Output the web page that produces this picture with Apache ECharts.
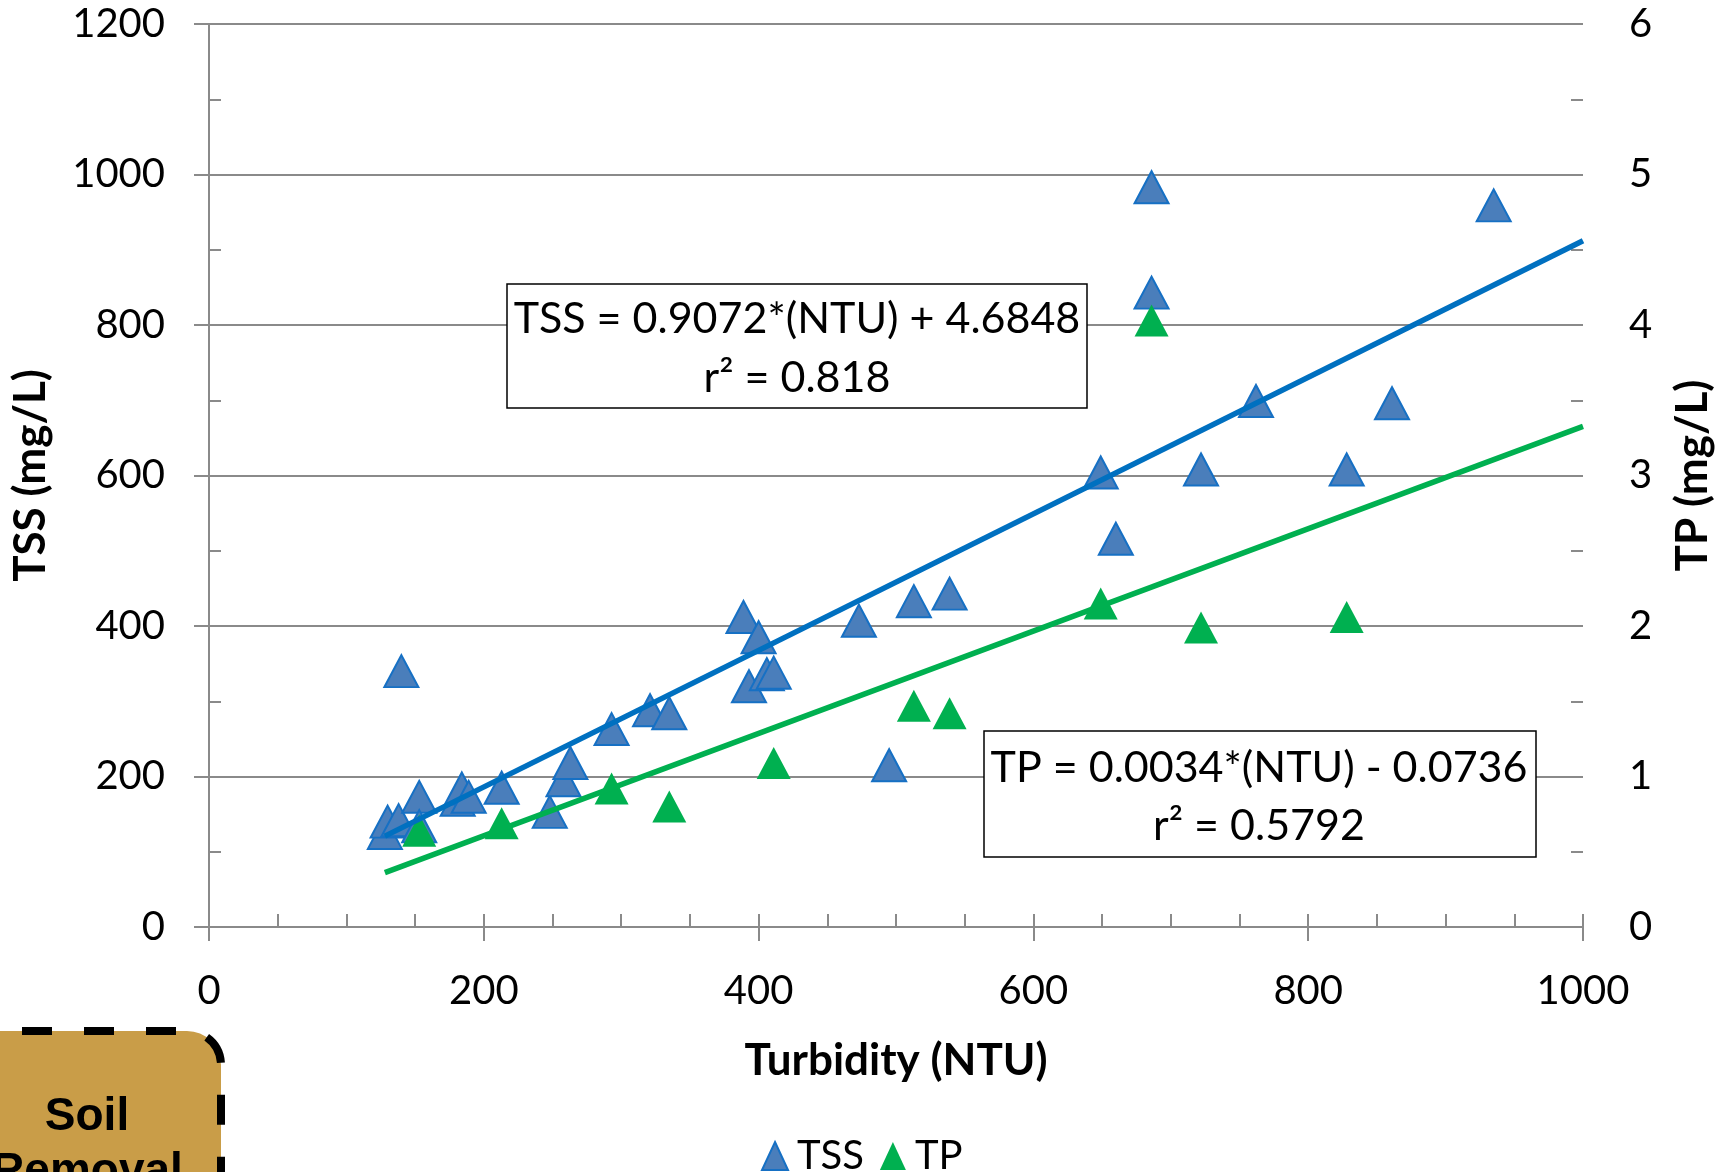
<!DOCTYPE html>
<html>
<head>
<meta charset="utf-8">
<script src="https://cdn.jsdelivr.net/npm/echarts@6/dist/echarts.min.js"></script>
<style>
  html, body { margin: 0; padding: 0; background: #fff; }
  #main { width: 1727px; height: 1172px; }
</style>
</head>
<body>
<div id="main"></div>
<script>
var myChart = echarts.init(document.getElementById('main'));

// TSS vs turbidity
var tssNtu = [128, 130, 138, 140, 153, 153, 181, 184, 189, 213, 248, 258, 263, 293, 321, 335, 389, 393, 400, 406, 411, 473, 495, 513, 539, 649, 660, 686, 686, 722, 762, 828, 861, 935];
var tssVal = [125, 140, 142, 340, 173, 134, 169, 184, 173, 185, 153, 195, 218, 263, 288, 284, 412, 320, 385, 336, 338, 407, 215, 433, 443, 604, 516, 983, 843, 608, 699, 608, 696, 959];

// TP vs turbidity
var tpNtu = [153, 213, 293, 335, 411, 513, 539, 649, 686, 722, 828];
var tpVal = [0.64, 0.69, 0.92, 0.80, 1.09, 1.47, 1.42, 2.15, 4.03, 1.99, 2.06];

// fitted lines: [slope, intercept], drawn from min NTU to axis end
var tssFit = [0.9072, 4.6848];
var tpFit = [0.0034, -0.0736];
var fitRange = [128, 1000];

var xTicks = [0, 1000, 200];
var tssTicks = [0, 1200, 200];
var tpTicks = [0, 6, 1];

function pairs(xs, ys) {
    var out = [];
    for (var i = 0; i < xs.length; i++) out.push([xs[i], ys[i]]);
    return out;
}
function fitLine(c) {
    return fitRange.map(function (x) { return [x, c[0] * x + c[1]]; });
}
function plain(v) { return String(v); }   // no thousands separator

var gray = '#8a8a8a';
var font = 'Lato';

option = {
    animation: false,
    grid: { left: 209, right: 144, top: 24, bottom: 245 },
    legend: {
        left: 756,
        top: 1131,
        itemWidth: 26,
        itemHeight: 28,
        itemGap: 16,
        textStyle: { fontFamily: font, fontSize: 40, color: '#000', padding: [0, 0, 0, 4] },
        data: ['TSS', 'TP']
    },
    xAxis: [
        {
            type: 'value',
            min: xTicks[0], max: xTicks[1], interval: xTicks[2],
            name: 'Turbidity (NTU)',
            nameLocation: 'middle',
            nameGap: 112,
            nameTextStyle: { fontFamily: font, fontSize: 44, fontWeight: 'bold', color: '#000' },
            axisLine: { lineStyle: { color: gray, width: 2 } },
            axisTick: { length: 14, lineStyle: { color: gray, width: 2 } },
            axisLabel: { fontFamily: font, fontSize: 40, color: '#000', margin: 44, formatter: plain },
            splitLine: { show: false }
        },
        {   // inner ticks
            type: 'value', position: 'bottom',
            min: xTicks[0], max: xTicks[1], interval: 50,
            axisLine: { show: false },
            axisTick: { inside: true, length: 13, lineStyle: { color: gray, width: 2 } },
            axisLabel: { show: false },
            splitLine: { show: false }
        }
    ],
    yAxis: [
        {
            type: 'value', position: 'left',
            min: tssTicks[0], max: tssTicks[1], interval: tssTicks[2],
            name: 'TSS (mg/L)',
            nameLocation: 'middle',
            nameRotate: 90,
            nameGap: 156,
            nameTextStyle: { fontFamily: font, fontSize: 44, fontWeight: 'bold', color: '#000' },
            axisLine: { show: true, lineStyle: { color: gray, width: 2 } },
            axisTick: { show: true, length: 15, lineStyle: { color: gray, width: 2 } },
            axisLabel: { fontFamily: font, fontSize: 40, color: '#000', margin: 44, formatter: plain },
            splitLine: { lineStyle: { color: gray, width: 2 } }
        },
        {
            type: 'value', position: 'right',
            min: tpTicks[0], max: tpTicks[1], interval: tpTicks[2],
            name: 'TP (mg/L)',
            nameLocation: 'middle',
            nameRotate: 90,
            nameGap: 88,
            nameTextStyle: { fontFamily: font, fontSize: 44, fontWeight: 'bold', color: '#000' },
            axisLine: { show: true, lineStyle: { color: gray, width: 2 } },
            axisTick: { show: true, length: 15, lineStyle: { color: gray, width: 2 } },
            axisLabel: { fontFamily: font, fontSize: 40, color: '#000', margin: 46 },
            splitLine: { show: false }
        },
        {   // inner ticks left
            type: 'value', position: 'left',
            min: tssTicks[0], max: tssTicks[1], interval: 100,
            axisLine: { show: false },
            axisTick: { show: true, inside: true, length: 12, lineStyle: { color: gray, width: 2 } },
            axisLabel: { show: false },
            splitLine: { show: false }
        },
        {   // inner ticks right
            type: 'value', position: 'right',
            min: tpTicks[0], max: tpTicks[1], interval: 0.5,
            axisLine: { show: false },
            axisTick: { show: true, inside: true, length: 12, lineStyle: { color: gray, width: 2 } },
            axisLabel: { show: false },
            splitLine: { show: false }
        }
    ],
    series: [
        {
            name: 'TSS',
            type: 'scatter',
            symbol: 'triangle',
            symbolSize: [34, 32],
            itemStyle: { color: '#4a7ebb', borderColor: '#1670c4', borderWidth: 2, opacity: 1 },
            data: pairs(tssNtu, tssVal),
            z: 2
        },
        {
            name: 'TP',
            type: 'scatter',
            yAxisIndex: 1,
            symbol: 'triangle',
            symbolSize: [34, 32],
            itemStyle: { color: '#00b050', opacity: 1 },
            data: pairs(tpNtu, tpVal),
            z: 3
        },
        {
            name: 'TSS fit',
            type: 'line',
            showSymbol: false,
            lineStyle: { color: '#0070c0', width: 5.5 },
            data: fitLine(tssFit),
            z: 4
        },
        {
            name: 'TP fit',
            type: 'line',
            yAxisIndex: 1,
            showSymbol: false,
            lineStyle: { color: '#00b050', width: 5.5 },
            data: fitLine(tpFit),
            z: 4
        }
    ],
    graphic: [
        {
            type: 'rect',
            shape: { x: 507, y: 284, width: 580, height: 124 },
            style: { fill: '#fff', stroke: '#000', lineWidth: 1.5 },
            z: 10
        },
        {
            type: 'text', x: 797, y: 319, z: 11,
            style: { text: 'TSS = 0.9072*(NTU) + 4.6848', fontFamily: font, fontSize: 43, fill: '#000', align: 'center', verticalAlign: 'middle' }
        },
        {
            type: 'text', x: 797, y: 378, z: 11,
            style: { text: 'r² = 0.818', fontFamily: font, fontSize: 43, fill: '#000', align: 'center', verticalAlign: 'middle' }
        },
        {
            type: 'rect',
            shape: { x: 984, y: 731, width: 552, height: 126 },
            style: { fill: '#fff', stroke: '#000', lineWidth: 1.5 },
            z: 10
        },
        {
            type: 'text', x: 1259, y: 768, z: 11,
            style: { text: 'TP = 0.0034*(NTU) - 0.0736', fontFamily: font, fontSize: 43, fill: '#000', align: 'center', verticalAlign: 'middle' }
        },
        {
            type: 'text', x: 1259, y: 826, z: 11,
            style: { text: 'r² = 0.5792', fontFamily: font, fontSize: 43, fill: '#000', align: 'center', verticalAlign: 'middle' }
        },
        // "Soil Removal" badge cut by the page corner
        {
            type: 'rect',
            shape: { x: -40, y: 1031, width: 261, height: 220, r: [0, 34, 0, 0] },
            style: { fill: '#c99d48', stroke: '#000', lineWidth: 8, lineDash: [30, 32] },
            z: 10
        },
        {
            type: 'text', x: 87, y: 1117, z: 11,
            style: { text: 'Soil', fontFamily: 'Liberation Sans', fontWeight: 'bold', fontSize: 46, fill: '#000', align: 'center', verticalAlign: 'middle' }
        },
        {
            type: 'text', x: 87, y: 1172, z: 11,
            style: { text: 'Removal', fontFamily: 'Liberation Sans', fontWeight: 'bold', fontSize: 46, fill: '#000', align: 'center', verticalAlign: 'middle' }
        }
    ]
};

myChart.setOption(option);
</script>
</body>
</html>
